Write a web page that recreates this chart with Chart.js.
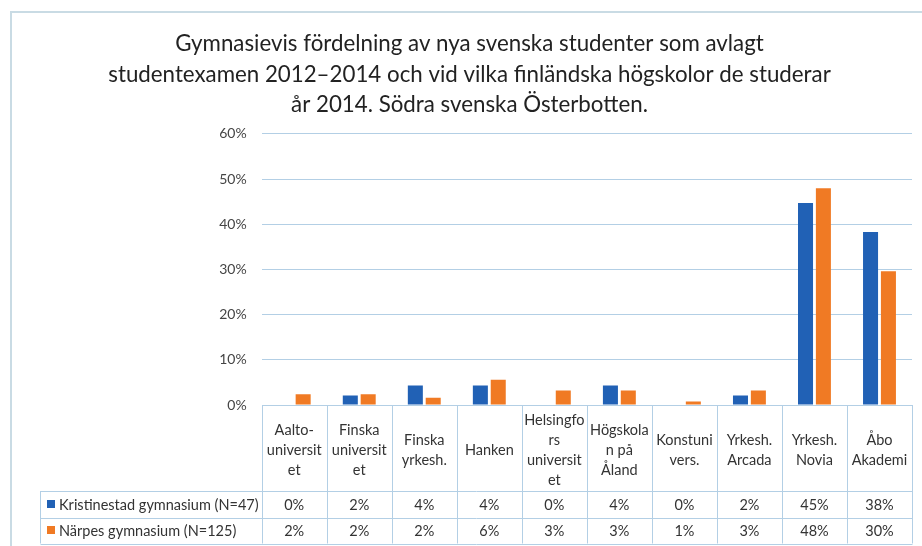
<!DOCTYPE html>
<html>
<head>
<meta charset="utf-8">
<title>Gymnasievis fördelning</title>
<script src="https://cdn.jsdelivr.net/npm/chart.js@4/dist/chart.umd.min.js"></script>
<style>
  body { margin: 0; background: #fff; }
  #wrap { position: relative; width: 922px; height: 546px; }
</style>
</head>
<body>
<div id="wrap"><canvas id="myChart" width="922" height="546"></canvas></div>
<script>
let titleLines=['Gymnasievis fördelning av nya svenska studenter som avlagt','studentexamen 2012–2014 och vid vilka finländska högskolor de studerar','år 2014. Södra svenska Österbotten.']

let schools=[
  ['Aalto-','universit','et'],
  ['Finska','universit','et'],
  ['Finska','yrkesh.'],
  ['Hanken'],
  ['Helsingfo','rs','universit','et'],
  ['Högskola','n på','Åland'],
  ['Konstuni','vers.'],
  ['Yrkesh.','Arcada'],
  ['Yrkesh.','Novia'],
  ['Åbo','Akademi']
]

let kristName='Kristinestad gymnasium (N=47)'
let kristVal=[0,2.1,4.3,4.3,0,4.3,0,2.1,44.7,38.3]

let narpName='Närpes gymnasium (N=125)'
let narpVal=[2.4,2.4,1.6,5.6,3.2,3.2,0.8,3.2,48.0,29.6]

let yTicks=[0,10,20,30,40,50,60]

const blue='#2161b5'
const orange='#f07a24'
const lineCol='#b3cfe5'
const textCol='#333333'
const fontFam='Lato, "Open Sans", sans-serif'

// frame + data table under the bars
const tablePlugin={
  id:'tablePlugin',
  beforeDraw(chart){
    const c=chart.ctx
    c.save()
    c.strokeStyle='#c9dbe4'
    c.lineWidth=2
    c.beginPath()
    c.moveTo(11,546)
    c.lineTo(11,12)
    c.lineTo(922,12)
    c.stroke()
    c.restore()
  },
  afterDraw(chart){
    const c=chart.ctx
    const x=chart.scales.x
    const area=chart.chartArea
    const n=schools.length
    const cw=(area.right-area.left)/n
    const top=area.bottom
    const row1=491
    const row2=517.5
    const bot=543.5
    const legLeft=40.5

    c.save()
    c.strokeStyle=lineCol
    c.lineWidth=1
    c.beginPath()
    for(let i=0;i<=n;i++){
      let px=Math.round(area.left+i*cw)+0.5
      c.moveTo(px,top)
      c.lineTo(px,bot)
    }
    c.moveTo(legLeft,row1)
    c.lineTo(legLeft,bot)
    ;[row1,row2,bot].forEach(function(y){
      c.moveTo(legLeft,Math.round(y)+0.5)
      c.lineTo(Math.round(area.right)+0.5,Math.round(y)+0.5)
    })
    c.stroke()

    c.fillStyle=textCol
    c.font='14.5px '+fontFam
    c.textAlign='center'
    c.textBaseline='middle'
    for(let i=0;i<n;i++){
      let cx=x.getPixelForValue(i)
      let lines=schools[i]
      let lh=20
      let y0=450-(lines.length-1)*lh/2
      for(let j=0;j<lines.length;j++){
        c.fillText(lines[j],cx,y0+j*lh)
      }
      c.fillText(Math.round(kristVal[i])+'%',cx,(row1+row2)/2+1)
      c.fillText(Math.round(narpVal[i])+'%',cx,(row2+bot)/2+1)
    }

    c.textAlign='left'
    c.fillStyle=blue
    c.fillRect(47,500,8,8)
    c.fillStyle=orange
    c.fillRect(47,526,8,8)
    c.fillStyle=textCol
    c.fillText(kristName,59,(row1+row2)/2+1)
    c.fillText(narpName,59,(row2+bot)/2+1)
    c.restore()
  }
}

const ctx=document.getElementById('myChart')

let myChart=new Chart(ctx,{
  type:'bar',
  data:{
    labels:schools.map(function(s){return s.join('')}),
    datasets:[{
      label:kristName,
      data:kristVal,
      backgroundColor:blue,
      categoryPercentage:0.55,
      barPercentage:0.84
    },{
      label:narpName,
      data:narpVal,
      backgroundColor:orange,
      categoryPercentage:0.55,
      barPercentage:0.84
    }]
  },
  options:{
    responsive:false,
    animation:false,
    devicePixelRatio:1,
    layout:{padding:{top:11,left:27,right:10,bottom:141}},
    plugins:{
      legend:{display:false},
      tooltip:{enabled:false},
      title:{
        display:true,
        text:titleLines,
        color:'#222222',
        font:{family:fontFam,size:22.3,weight:'normal',lineHeight:1.36},
        padding:{top:18,bottom:14}
      }
    },
    scales:{
      x:{
        grid:{display:false},
        border:{display:false},
        ticks:{display:false},
        afterFit(scale){scale.height=0}
      },
      y:{
        min:0,
        max:60,
        afterBuildTicks(scale){scale.ticks=yTicks.map(function(v){return {value:v}})},
        ticks:{
          padding:15,
          color:'#454545',
          font:{family:fontFam,size:14},
          callback:function(v){return v+'%'}
        },
        grid:{color:lineCol,drawTicks:false},
        border:{display:false},
        afterFit(scale){scale.width=234.7}
      }
    }
  },
  plugins:[tablePlugin]
})
</script>
</body>
</html>
